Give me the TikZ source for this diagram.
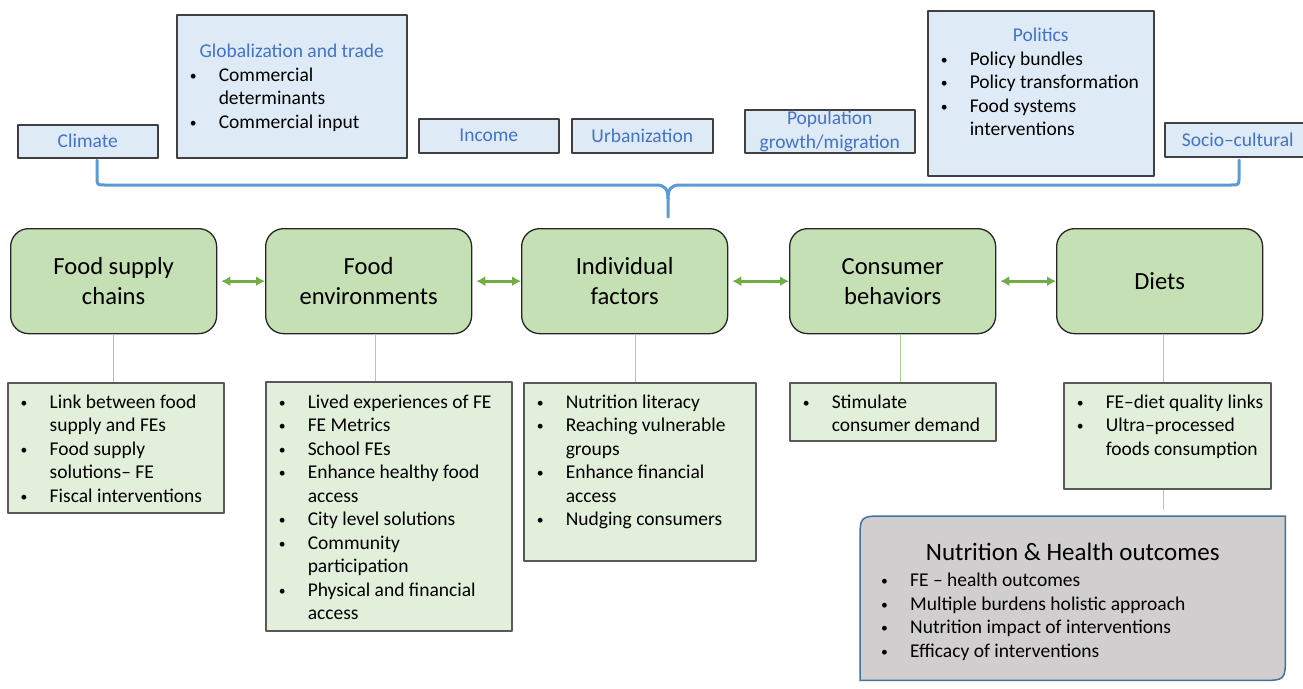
\documentclass[tikz,border=0pt]{standalone}
\usepackage{fontspec}
\setmainfont{Carlito}
\usetikzlibrary{arrows.meta}
\usetikzlibrary{backgrounds}

\definecolor{topfill}{RGB}{222,235,247}
\definecolor{topblue}{RGB}{68,114,196}
\definecolor{stagefill}{RGB}{197,224,180}
\definecolor{listfill}{RGB}{226,239,218}
\definecolor{outfill}{RGB}{208,206,206}
\definecolor{outblue}{RGB}{65,113,156}
\definecolor{braceblue}{RGB}{91,155,213}
\definecolor{linkgreen}{RGB}{112,173,71}
\definecolor{stemgreen}{RGB}{169,209,142}

\newcommand\bodyfont{\fontsize{19.5}{23.5}\selectfont}
\newcommand\stagefont{\fontsize{24.6}{30}\selectfont}
\newlength\itmskip
\setlength\itmskip{42pt}
\newcommand\itm[1]{\par\leftskip=\itmskip\noindent
  \llap{\makebox[29pt][l]{\raisebox{1pt}{\scalebox{0.7}{\textbullet}}}}\strut#1\par}
\newcommand\ttl[1]{{\centering\strut#1\par}}
\newcommand\blist[4]{\parbox[c][#2pt][t]{#1pt}{\parskip=0pt\raggedright\vspace*{#3pt}#4}}

\tikzset{
  topbox/.style = {draw = black!75, line width = 1.5pt, fill = topfill,
    text = topblue, font = \bodyfont, inner sep = 0, align = center,
    anchor = north west},
  stage/.style = {draw = black!85, line width = 1.3pt, fill = stagefill,
    rounded corners = 18pt, font = \stagefont, inner sep = 0,
    align = center, minimum width = 206, minimum height = 105,
    anchor = north west},
  lowbox/.style = {draw = black!65, line width = 1.5pt, fill = listfill,
    font = \bodyfont, inner sep = 0, anchor = north west},
  outbox/.style = {draw = outblue, line width = 1.5pt, fill = outfill},
  brace/.style = {draw = braceblue, line width = 3pt, line cap = round},
  link/.style = {{Latex[length = 9pt, width = 10pt]}-{Latex[length = 9pt,
    width = 10pt]}, draw = linkgreen, line width = 3pt, shorten <= 4pt},
  stem/.style = {draw = stemgreen, line width = 1pt}
}

\begin{document}
\begin{tikzpicture}[x = 1pt, y = -1pt, line join = round]
  \useasboundingbox (0, 0) rectangle (1303, 688);

  % drivers
  \node[topbox, minimum width = 140, minimum height = 33] (clim) at (17, 124)
  {Climate};
  \node[topbox, text = black] (glob) at (176, 14) {\blist{230}{143}{26.5}{%
      \ttl{\color{topblue}Globalization and trade}
      \itm{Commercial\\determinants}
      \itm{Commercial input}}};
  \node[topbox, minimum width = 140, minimum height = 34] (inc) at (418, 118)
  {Income};
  \node[topbox, minimum width = 141, minimum height = 34] (urb) at (571, 118)
  {Urbanization};
  \node[topbox, minimum width = 170, minimum height = 43] (pop) at (744, 109)
  {Population\\growth/migration};
  \node[topbox, text = black] (pol) at (927, 10) {\blist{226}{165}{14.5}{%
      \ttl{\color{topblue}Politics}
      \itm{Policy bundles}
      \itm{Policy transformation}
      \itm{Food systems\\interventions}}};
  \node[topbox, minimum width = 146, minimum height = 34] (soc) at (1164, 122)
  {Socio–cultural};

  % brace
  \draw[brace] (97, 160) -- (97, 177) .. controls (97, 185) .. (105, 185)
  -- (656, 185) .. controls (665, 185) and (668, 189) .. (668, 199)
  -- (668, 217);
  \draw[brace] (668, 199) .. controls (668, 189) and (671, 185) .. (680, 185)
  -- (1231, 185) .. controls (1239, 185) .. (1239, 177) -- (1239, 160);

  % stages
  \node[stage] (fsc) at (10, 228) {Food supply\\chains};
  \node[stage] (fe) at (265, 228) {Food\\environments};
  \node[stage] (ind) at (521, 228) {Individual\\factors};
  \node[stage] (cb) at (789, 228) {Consumer\\behaviors};
  \node[stage] (diet) at (1056, 228) {Diets};

  \draw[link] (fsc) -- (fe);
  \draw[link] (fe) -- (ind);
  \draw[link] (ind) -- (cb);
  \draw[link] (cb) -- (diet);

  % lists
  \node[lowbox] (fscl) at (7, 382) {\blist{216}{130}{9}{%
      \itm{Link between food\\supply and FEs}
      \itm{Food supply\\solutions– FE}
      \itm{Fiscal interventions}}};
  \node[lowbox] (fel) at (265, 381) {\blist{246}{249}{10}{%
      \itm{Lived experiences of FE}
      \itm{FE Metrics}
      \itm{School FEs}
      \itm{Enhance healthy food\\access}
      \itm{City level solutions}
      \itm{Community\\participation}
      \itm{Physical and financial\\access}}};
  \node[lowbox] (indl) at (523, 382) {\blist{232}{178}{9}{%
      \itm{Nutrition literacy}
      \itm{Reaching vulnerable\\groups}
      \itm{Enhance financial\\access}
      \itm{Nudging consumers}}};
  \node[lowbox] (cbl) at (789, 382) {\blist{206}{58}{9}{%
      \itm{Stimulate\\consumer demand}}};
  \node[lowbox] (dietl) at (1063, 382) {\blist{207}{106}{9}{%
      \itm{FE–diet quality links}
      \itm{Ultra–processed\\foods consumption}}};

  \draw[stem] (fsc.south) -- (fsc.south |- fscl.north);
  \draw[stem] ([xshift = 7pt]fe.south) -- ([xshift = 7pt]fe.south |- fel.north);
  \draw[stem] ([xshift = 11pt]ind.south) -- ([xshift = 11pt]ind.south |- indl.north);
  \draw[stem] ([xshift = 8pt]cb.south) -- ([xshift = 8pt]cb.south |- cbl.north);
  \draw[stem] ([xshift = 4pt]diet.south) -- ([xshift = 4pt]diet.south |- dietl.north);

  % outcomes
  \node[font = \bodyfont, inner sep = 0, anchor = north west] (out)
  at (860, 516) {\blist{425}{164}{23}{\setlength\itmskip{50pt}%
      {\fontsize{25}{30}\selectfont\ttl{Nutrition \& Health outcomes}}
      \itm{FE – health outcomes}
      \itm{Multiple burdens holistic approach}
      \itm{Nutrition impact of interventions}
      \itm{Efficacy of interventions}}};
  \begin{scope}[on background layer]
    \draw[outbox] (out.south west) -- ([yshift = -25pt]out.north west)
    .. controls (out.north west) .. ([xshift = 25pt]out.north west)
    -- (out.north east) -- ([yshift = 25pt]out.south east)
    .. controls (out.south east) .. ([xshift = -25pt]out.south east) -- cycle;
  \end{scope}
  \draw[stem, shorten >= 6pt] ([xshift = -4pt]dietl.south)
  -- ([xshift = -4pt]dietl.south |- out.north);
\end{tikzpicture}
\end{document}
